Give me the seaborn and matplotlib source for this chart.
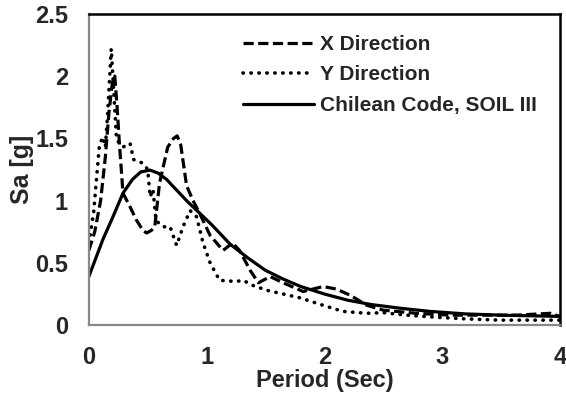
import matplotlib
matplotlib.use("Agg")
import matplotlib.pyplot as plt
import seaborn as sns

# X direction spectrum
x_period = [0.0, 0.05, 0.1, 0.14, 0.17, 0.2, 0.22, 0.24, 0.26, 0.29, 0.35, 0.4, 0.46, 0.49, 0.53,
            0.56, 0.6, 0.67, 0.72, 0.75, 0.78, 0.83, 0.885, 0.94, 1.03, 1.14, 1.22, 1.28, 1.37,
            1.44, 1.54, 1.65, 1.82, 1.99, 2.1, 2.22, 2.36, 2.5, 2.78, 3.07, 3.35, 3.63, 3.92, 4.0]
x_sa = [0.6, 0.75, 1.0, 1.35, 1.7, 1.95, 2.0, 1.75, 1.45, 1.06, 0.95, 0.85, 0.76, 0.74, 0.76,
        0.79, 1.14, 1.43, 1.5, 1.52, 1.45, 1.12, 1.0, 0.9, 0.72, 0.6, 0.66, 0.6, 0.44,
        0.34, 0.39, 0.34, 0.27, 0.31, 0.29, 0.24, 0.16, 0.12, 0.095, 0.08, 0.08, 0.08, 0.095, 0.07]

# Y direction spectrum
y_period = [0.0, 0.04, 0.09, 0.12, 0.14, 0.16, 0.19, 0.21, 0.235, 0.29, 0.35, 0.38, 0.46, 0.5,
            0.52, 0.545, 0.57, 0.63, 0.69, 0.745, 0.8, 0.86, 0.915, 0.97, 1.03, 1.11, 1.25, 1.31,
            1.39, 1.51, 1.79, 2.02, 2.16, 2.36, 2.5, 2.7, 2.92, 3.2, 3.49, 4.0]
y_sa = [0.66, 0.9, 1.45, 1.51, 1.43, 1.7, 2.22, 1.9, 1.49, 1.43, 1.46, 1.33, 1.3, 1.25,
        1.03, 1.09, 0.84, 0.79, 0.79, 0.64, 0.79, 0.92, 0.87, 0.66, 0.5, 0.36, 0.35, 0.36,
        0.32, 0.28, 0.22, 0.15, 0.11, 0.095, 0.1, 0.08, 0.065, 0.05, 0.04, 0.04]

# Chilean code design spectrum, soil III
code_period = [0.0, 0.06, 0.12, 0.2, 0.29, 0.37, 0.44, 0.52, 0.59, 0.66, 0.75, 0.84, 0.94, 1.05,
               1.2, 1.35, 1.5, 1.65, 1.8, 2.0, 2.2, 2.4, 2.65, 2.9, 3.2, 3.5, 3.75, 4.0]
code_sa = [0.39, 0.54, 0.69, 0.86, 1.06, 1.17, 1.23, 1.245, 1.22, 1.17, 1.08, 0.99, 0.9, 0.8,
           0.65, 0.54, 0.44, 0.37, 0.31, 0.25, 0.2, 0.165, 0.135, 0.11, 0.09, 0.08, 0.075, 0.07]

x_ticks = [0, 1, 2, 3, 4]
y_ticks = [0, 0.5, 1, 1.5, 2, 2.5]
y_tick_labels = ["0", "0.5", "1", "1.5", "2", "2.5"]

sns.set_style("white")
plt.rcParams["font.family"] = ["Liberation Sans", "DejaVu Sans"]
plt.rcParams["font.weight"] = "bold"

fig = plt.figure(figsize=(5.66, 3.96), dpi=100)
ax = fig.add_axes([0.157, 0.179, 0.832, 0.786])

sns.lineplot(x=x_period, y=x_sa, ax=ax, sort=False, color="black", lw=2.3,
             linestyle=(0, (3.2, 1.4)), label="X Direction")
sns.lineplot(x=y_period, y=y_sa, ax=ax, sort=False, color="black", lw=2.6,
             linestyle=(0, (0.1, 2.1)), dash_capstyle="round", label="Y Direction")
sns.lineplot(x=code_period, y=code_sa, ax=ax, sort=False, color="black", lw=2.3,
             label="Chilean Code, SOIL III")

ax.set_xlim(0, 4)
ax.set_ylim(0, 2.5)
ax.set_xticks(x_ticks)
ax.set_yticks(y_ticks)
ax.set_yticklabels(y_tick_labels)
ax.set_xlabel("Period (Sec)", fontsize=17, fontweight="bold", labelpad=0)
ax.set_ylabel("Sa [g]", fontsize=18, fontweight="bold", labelpad=1)
ax.tick_params(axis="both", labelsize=17, length=5, color="#888888", direction="out",
               width=1.3, pad=10)
for lab in ax.get_xticklabels() + ax.get_yticklabels():
    lab.set_fontweight("bold")

for side in ["left", "bottom"]:
    ax.spines[side].set_color("#888888")
    ax.spines[side].set_linewidth(1.6)
for side in ["top", "right"]:
    ax.spines[side].set_color("black")
    ax.spines[side].set_linewidth(1.8)

ax.legend(loc="upper left", bbox_to_anchor=(0.327, 0.932), frameon=False,
          handlelength=3.4, handletextpad=0.3, labelspacing=0.55, borderpad=0,
          borderaxespad=0, prop={"weight": "bold", "size": 15})

fig.savefig("out.png", dpi=100)
